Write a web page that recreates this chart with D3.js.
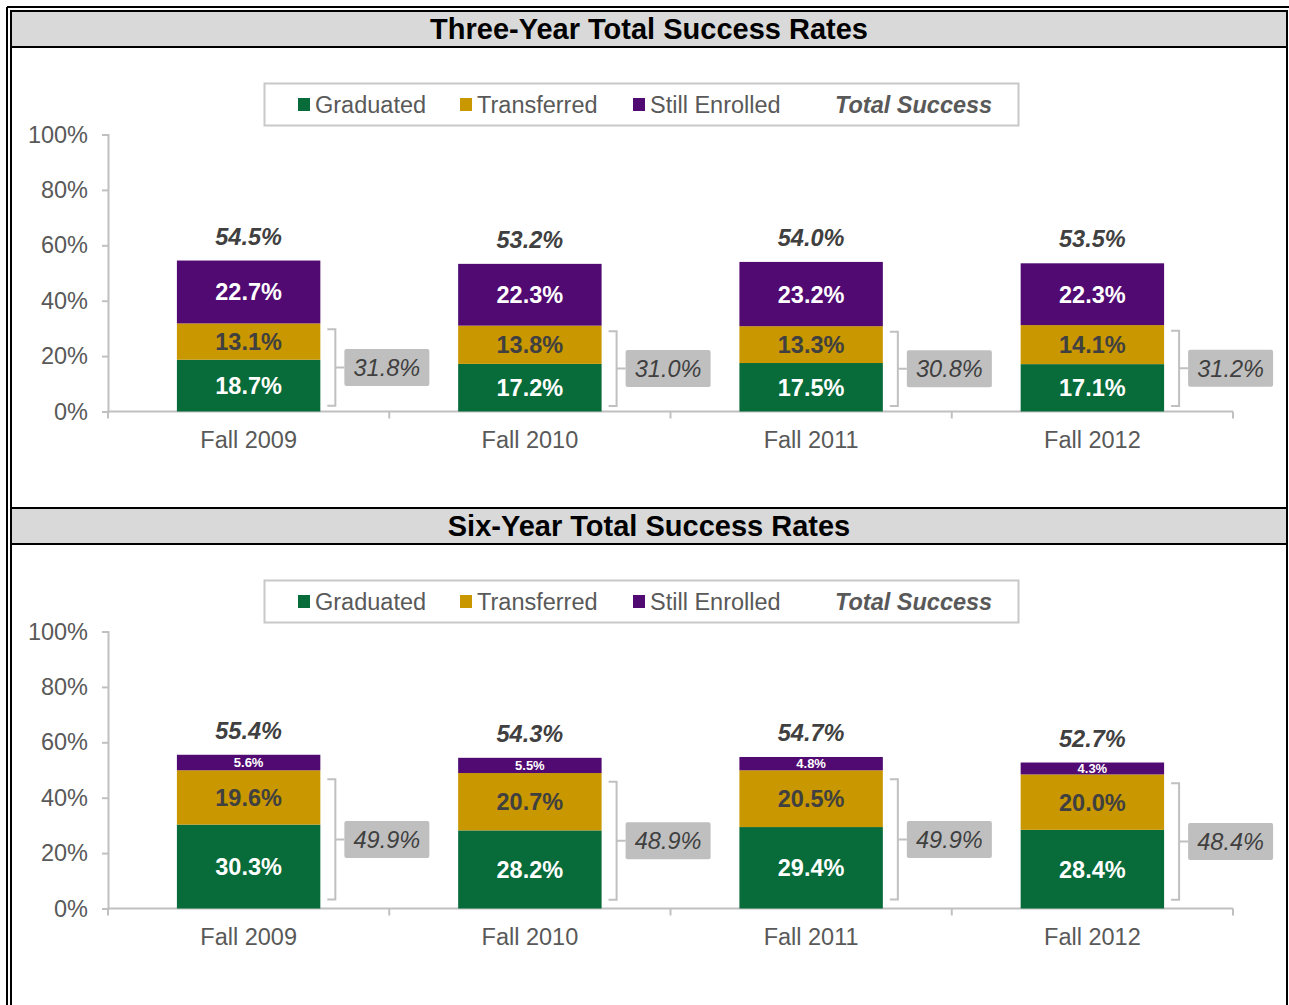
<!DOCTYPE html>
<html>
<head>
<meta charset="utf-8">
<script src="https://cdn.jsdelivr.net/npm/d3@7"></script>
<style>
  body { margin: 0; background: #fff; }
  text { font-family: "Liberation Sans", Arial, sans-serif; }
</style>
</head>
<body>
<div id="chart"></div>
<script>
// data
const categories = ["Fall 2009", "Fall 2010", "Fall 2011", "Fall 2012"];
const yTicks = [0, 20, 40, 60, 80, 100];

const threeGraduated = [18.7, 17.2, 17.5, 17.1];
const threeTransferred = [13.1, 13.8, 13.3, 14.1];
const threeStill = [22.7, 22.3, 23.2, 22.3];
const threeTotal = [54.5, 53.2, 54.0, 53.5];
const threeGradTrans = [31.8, 31.0, 30.8, 31.2];

const sixGraduated = [30.3, 28.2, 29.4, 28.4];
const sixTransferred = [19.6, 20.7, 20.5, 20.0];
const sixStill = [5.6, 5.5, 4.8, 4.3];
const sixTotal = [55.4, 54.3, 54.7, 52.7];
const sixGradTrans = [49.9, 48.9, 49.9, 48.4];

const keys = ["Graduated", "Transferred", "Still Enrolled"];
const colors = { "Graduated": "#076b3a", "Transferred": "#c99700", "Still Enrolled": "#500a72" };
const labelColors = { "Graduated": "#ffffff", "Transferred": "#404040", "Still Enrolled": "#ffffff" };

const W = 1289, H = 1005;
const svg = d3.select("#chart").append("svg")
  .attr("width", W)
  .attr("height", H);

/////////////////////////////
// table style frame
svg.append("line").attr("x1", 7).attr("x2", 7).attr("y1", 7).attr("y2", H).attr("stroke", "#000").attr("stroke-width", 2);
svg.append("line").attr("x1", 7).attr("x2", W).attr("y1", 7).attr("y2", 7).attr("stroke", "#000").attr("stroke-width", 2);
svg.append("line").attr("x1", 11).attr("x2", 11).attr("y1", 11).attr("y2", H).attr("stroke", "#000").attr("stroke-width", 2);
svg.append("line").attr("x1", 1287).attr("x2", 1287).attr("y1", 11).attr("y2", H).attr("stroke", "#000").attr("stroke-width", 2);

function drawPanel(offset, title, grad, trans, still, totals, gradTrans) {
  let g = svg.append("g").attr("transform", `translate(0, ${offset})`);

  // title bar
  g.append("rect")
    .attr("x", 11).attr("y", 11)
    .attr("width", 1276).attr("height", 36)
    .attr("fill", "#d9d9d9")
    .attr("stroke", "#000")
    .attr("stroke-width", 2);
  g.append("text")
    .attr("x", 649).attr("y", 39)
    .attr("text-anchor", "middle")
    .attr("font-size", "29px")
    .attr("font-weight", "bold")
    .attr("fill", "#000")
    .text(title);

  /////////////////////////////
  let data = categories.map((c, i) => ({
    name: c,
    "Graduated": grad[i],
    "Transferred": trans[i],
    "Still Enrolled": still[i]
  }));
  let series = d3.stack().keys(keys)(data)
    .map(d => (d.forEach(v => v.key = d.key), d));

  let xScale = d3.scaleBand()
    .domain(categories)
    .range([108, 1233])
    .paddingInner(0.49)
    .paddingOuter(0.245);
  let yScale = d3.scaleLinear()
    .domain([0, 100])
    .range([411.5, 134.5]);

  /////////////////////////////
  // y axis
  let yAxis = g.append("g")
    .attr("transform", "translate(108,0)")
    .call(d3.axisLeft(yScale).tickValues(yTicks).tickFormat(d => d + "%").tickSize(6).tickPadding(14));
  yAxis.selectAll("path, line").attr("stroke", "#c0c0c0").attr("stroke-width", 2);
  yAxis.selectAll("text")
    .attr("font-size", "23.5px")
    .attr("font-family", "Liberation Sans, Arial, sans-serif")
    .attr("fill", "#595959");

  // x axis
  let x0 = yScale(0);
  g.append("line")
    .attr("x1", 107).attr("x2", 1233)
    .attr("y1", x0).attr("y2", x0)
    .attr("stroke", "#c0c0c0").attr("stroke-width", 2);
  let edges = categories.map(c => xScale(c) - xScale.step() * xScale.paddingOuter());
  edges.push(xScale.range()[1]);
  g.selectAll(".xtick").data(edges).join("line")
    .attr("x1", d => d).attr("x2", d => d)
    .attr("y1", x0).attr("y2", x0 + 7)
    .attr("stroke", "#c0c0c0").attr("stroke-width", 2);
  let xAxis = g.append("g")
    .attr("transform", `translate(0, ${x0})`)
    .call(d3.axisBottom(xScale).tickSize(0).tickPadding(20));
  xAxis.select(".domain").remove();
  xAxis.selectAll("text")
    .attr("font-size", "23.5px")
    .attr("font-family", "Liberation Sans, Arial, sans-serif")
    .attr("fill", "#595959");

  /////////////////////////////
  // bars
  let barGroups = g.selectAll(".series").data(series).join("g")
    .attr("fill", d => colors[d.key]);
  barGroups.selectAll("rect")
    .data(d => d)
    .join("rect")
    .attr("x", d => xScale(d.data.name))
    .attr("y", d => yScale(d[1]))
    .attr("width", xScale.bandwidth())
    .attr("height", d => yScale(d[0]) - yScale(d[1]));

  barGroups.selectAll("text")
    .data(d => d)
    .join("text")
    .attr("x", d => xScale(d.data.name) + xScale.bandwidth() / 2)
    .attr("y", d => (yScale(d[0]) + yScale(d[1])) / 2)
    .attr("dy", "0.36em")
    .attr("text-anchor", "middle")
    .attr("font-weight", "bold")
    .attr("font-size", d => (yScale(d[0]) - yScale(d[1])) < 30 ? "13px" : "23.5px")
    .attr("fill", d => labelColors[d.key])
    .text(d => d.data[d.key].toFixed(1) + "%");

  // totals above bars
  g.selectAll(".total").data(categories).join("text")
    .attr("x", (c, i) => xScale(c) + xScale.bandwidth() / 2)
    .attr("y", (c, i) => yScale(totals[i]) - 16)
    .attr("text-anchor", "middle")
    .attr("font-weight", "bold")
    .attr("font-style", "italic")
    .attr("font-size", "23.5px")
    .attr("fill", "#404040")
    .text((c, i) => totals[i].toFixed(1) + "%");

  /////////////////////////////
  // brackets for graduated + transferred
  categories.forEach((c, i) => {
    let right = xScale(c) + xScale.bandwidth();
    let top = yScale(gradTrans[i]);
    let bottom = yScale(0);
    let inset = (bottom - top) * 0.065;
    let t = top + inset, b = bottom - inset, mid = (t + b) / 2;
    let bx = right + 15;
    g.append("path")
      .attr("d", `M${right + 7},${t} H${bx} V${b} H${right + 7} M${bx},${mid} H${bx + 9}`)
      .attr("fill", "none")
      .attr("stroke", "#c0c0c0")
      .attr("stroke-width", 2);
    g.append("rect")
      .attr("x", bx + 9).attr("y", mid - 18.5)
      .attr("width", 85).attr("height", 37)
      .attr("rx", 2)
      .attr("fill", "#bfbfbf");
    g.append("text")
      .attr("x", bx + 9 + 42.5).attr("y", mid)
      .attr("dy", "0.36em")
      .attr("text-anchor", "middle")
      .attr("font-style", "italic")
      .attr("font-size", "23.5px")
      .attr("fill", "#404040")
      .text(gradTrans[i].toFixed(1) + "%");
  });

  /////////////////////////////
  // legend
  g.append("rect")
    .attr("x", 264.5).attr("y", 83.5)
    .attr("width", 754).attr("height", 42)
    .attr("fill", "#fff")
    .attr("stroke", "#c8c8c8")
    .attr("stroke-width", 2);
  let legendX = [298, 460, 633];
  keys.forEach((k, i) => {
    g.append("rect")
      .attr("x", legendX[i]).attr("y", 98)
      .attr("width", 12).attr("height", 13)
      .attr("fill", colors[k]);
    g.append("text")
      .attr("x", legendX[i] + 17).attr("y", 105)
      .attr("dy", "0.36em")
      .attr("font-size", "23.5px")
      .attr("fill", "#595959")
      .text(k);
  });
  g.append("text")
    .attr("x", 835).attr("y", 105)
    .attr("dy", "0.36em")
    .attr("font-size", "23.5px")
    .attr("font-weight", "bold")
    .attr("font-style", "italic")
    .attr("fill", "#595959")
    .text("Total Success");
}

drawPanel(0, "Three-Year Total Success Rates", threeGraduated, threeTransferred, threeStill, threeTotal, threeGradTrans);
drawPanel(497, "Six-Year Total Success Rates", sixGraduated, sixTransferred, sixStill, sixTotal, sixGradTrans);
</script>
</body>
</html>
